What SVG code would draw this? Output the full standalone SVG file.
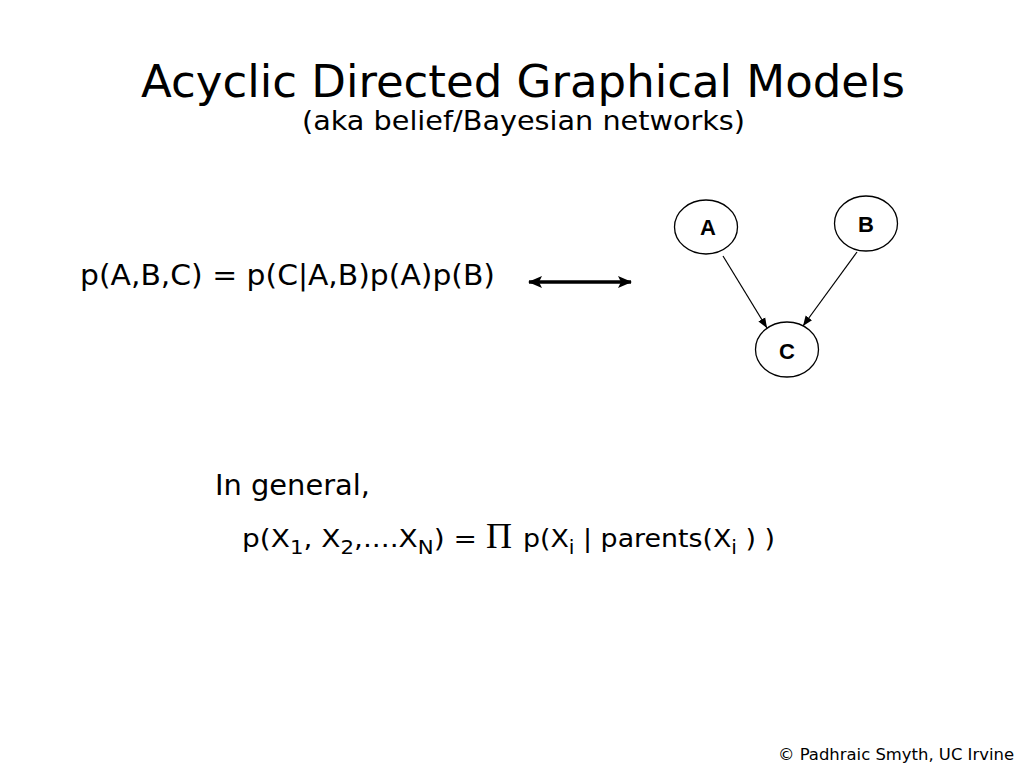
<svg xmlns="http://www.w3.org/2000/svg" width="1024" height="768" viewBox="0 0 1024 768">
<style>
.t{font-family:"DejaVu Sans","Liberation Sans",sans-serif;fill:#000}
.node ellipse{fill:#fff;stroke:#000;stroke-width:1.3}
.node text{font-family:"Liberation Sans",Arial,sans-serif;font-weight:bold;font-size:22px;text-anchor:middle;fill:#000}
.edge{stroke:#000;stroke-width:1.2;fill:none}
</style>
<defs>
<marker id="ah" viewBox="0 0 10 10" refX="10" refY="5" markerWidth="10" markerHeight="10" markerUnits="userSpaceOnUse" orient="auto">
<path d="M0,1 L10,5 L0,9 z" fill="#000"/>
</marker>
<marker id="big" viewBox="0 0 14 12" refX="13" refY="6" markerWidth="14" markerHeight="12" markerUnits="userSpaceOnUse" orient="auto-start-reverse">
<path d="M0,0 L14,6 L0,12 L3,6 z" fill="#000"/>
</marker>
</defs>
<rect width="1024" height="768" fill="#fff"/>
<text class="t" x="141" y="97" font-size="44" textLength="764" lengthAdjust="spacingAndGlyphs">Acyclic Directed Graphical Models</text>
<text class="t" x="302" y="130" font-size="27" textLength="443" lengthAdjust="spacingAndGlyphs">(aka belief/Bayesian networks)</text>
<text class="t" x="80" y="285" font-size="28.5" textLength="415" lengthAdjust="spacingAndGlyphs">p(A,B,C) = p(C|A,B)p(A)p(B)</text>
<line x1="529" y1="282" x2="631" y2="282" stroke="#000" stroke-width="3.5" marker-start="url(#big)" marker-end="url(#big)"/>
<g id="connectors">
<line class="edge" x1="723" y1="256" x2="767" y2="328" marker-end="url(#ah)"/>
<line class="edge" x1="857" y1="252" x2="803" y2="326" marker-end="url(#ah)"/>
</g>
<g id="node-A" class="node"><ellipse cx="706" cy="227" rx="31.5" ry="27"/><text x="708" y="235">A</text></g>
<g id="node-B" class="node"><ellipse cx="866" cy="223.5" rx="31.5" ry="27.5"/><text x="866" y="232">B</text></g>
<g id="node-C" class="node"><ellipse cx="787" cy="349.5" rx="31.5" ry="27.5"/><text x="787" y="359">C</text></g>
<text class="t" x="215" y="495" font-size="28" textLength="155" lengthAdjust="spacingAndGlyphs">In general,</text>
<text class="t" x="242" y="547" font-size="25" textLength="235" lengthAdjust="spacingAndGlyphs">p(X<tspan font-size="19" dy="7">1</tspan><tspan dy="-7">, X</tspan><tspan font-size="19" dy="7">2</tspan><tspan dy="-7">,....X</tspan><tspan font-size="19" dy="7">N</tspan><tspan dy="-7">) =</tspan></text>
<text x="486" y="548" font-family="'Liberation Serif',serif" font-size="36">Π</text>
<text class="t" x="523" y="547" font-size="25" textLength="252" lengthAdjust="spacingAndGlyphs">p(X<tspan font-size="19" dy="7">i</tspan><tspan dy="-7"> | parents(X</tspan><tspan font-size="19" dy="7">i</tspan><tspan dy="-7"> ) )</tspan></text>
<text class="t" x="1014" y="760" font-size="16" text-anchor="end" textLength="236" lengthAdjust="spacingAndGlyphs">© Padhraic Smyth, UC Irvine</text>
</svg>
